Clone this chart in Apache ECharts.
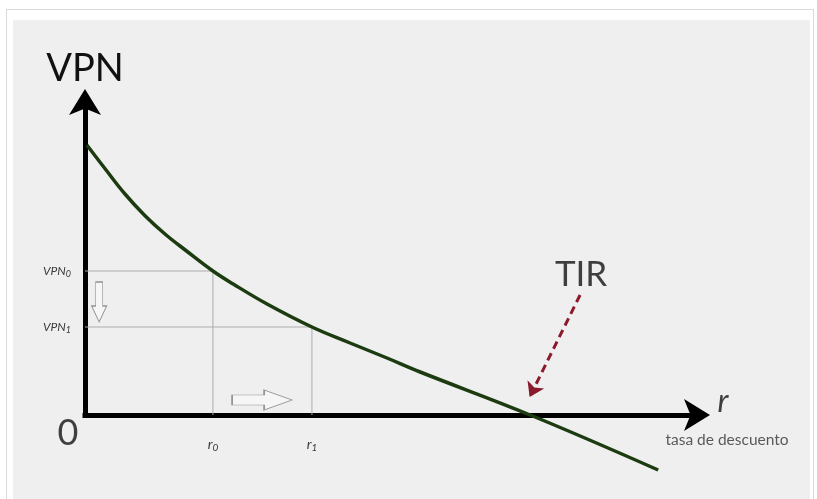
<!DOCTYPE html>
<html>
<head>
<meta charset="utf-8">
<script src="https://cdn.jsdelivr.net/npm/echarts@6.0.0/dist/echarts.min.js"></script>
<style>
  html, body { margin: 0; padding: 0; background: #fff; width: 817px; height: 499px; overflow: hidden; }
  #frame { position: absolute; left: 6px; top: 9px; width: 806px; height: 492px; border: 1px solid #dadada; background: #fff; }
  #panel { position: absolute; left: 13px; top: 20px; width: 797px; height: 479px; background: #efefef; }
  #chart { position: absolute; left: 0; top: 0; width: 817px; height: 499px; }
</style>
</head>
<body>
<div id="frame"></div>
<div id="panel"></div>
<div id="chart"></div>
<script>
// ---- data ----
const curveR   = [0.3, 3.3, 6.5, 9.8, 13.0, 16.3, 20.8, 24.1, 29.6, 36.9, 43.1, 49.1, 54.5, 72.4, 93.2];
const curveVPN = [54, 49.2, 44.2, 39.8, 36.2, 33, 28.8, 26.2, 22.2, 17.6, 14.4, 11.4, 8.6, 0, -11];
const rTicks   = [20.8, 36.9];      // r0, r1
const vpnTicks = [28.8, 17.6];      // VPN0, VPN1
const rTickLabels   = ['0', '1'];
const vpnTickLabels = ['0', '1'];
const tirArrowFrom = [80.5, 24];
const tirArrowTo   = [72.3, 3.6];
const downArrowAt  = [2.3, 22.6];
const rightArrowAt = [28.8, 3];
const xMax = 100, yMax = 63;

const curve = curveR.map((r, i) => [r, curveVPN[i]]);
const guide0 = [[0, vpnTicks[0]], [rTicks[0], vpnTicks[0]], [rTicks[0], 0]];
const guide1 = [[0, vpnTicks[1]], [rTicks[1], vpnTicks[1]], [rTicks[1], 0]];

const FONT = 'Lato';
const chart = echarts.init(document.getElementById('chart'), null, { renderer: 'canvas' });

const subRich = (size) => ({
  i: { fontFamily: FONT, fontStyle: 'italic', fontSize: size, color: '#3a3a3a', lineHeight: size + 4 },
  s: { fontFamily: FONT, fontStyle: 'italic', fontSize: Math.round(size * 0.72), color: '#3a3a3a', verticalAlign: 'bottom', lineHeight: size * 0.72 }
});

chart.setOption({
  animation: false,
  backgroundColor: 'transparent',
  grid: { left: 85, right: 117, top: 100, bottom: 84 },
  xAxis: {
    type: 'value', min: 0, max: xMax,
    splitLine: { show: false },
    axisTick: { show: false },
    axisLine: { onZero: false, symbol: ['none', 'arrow'], symbolSize: [24, 26], symbolOffset: [0, 10],
      lineStyle: { color: '#000', width: 5, cap: 'square' } },
    axisLabel: {
      customValues: rTicks, margin: 20,
      formatter: v => '{i|r}{s|' + rTickLabels[rTicks.indexOf(v)] + '}',
      rich: subRich(14)
    }
  },
  yAxis: {
    type: 'value', min: 0, max: yMax,
    splitLine: { show: false },
    axisTick: { show: false },
    name: 'VPN', nameLocation: 'end', nameGap: 12,
    nameTextStyle: { fontFamily: FONT, fontSize: 38, color: '#111', align: 'center' },
    axisLine: { onZero: false, symbol: ['none', 'arrow'], symbolSize: [24, 26], symbolOffset: [0, 11],
      lineStyle: { color: '#000', width: 5, cap: 'square' } },
    axisLabel: {
      customValues: vpnTicks, margin: 14,
      formatter: v => '{i|VPN}{s|' + vpnTickLabels[vpnTicks.indexOf(v)] + '}',
      rich: subRich(12)
    }
  },
  series: [
    { type: 'line', data: guide0, symbol: 'none', silent: true,
      lineStyle: { color: '#adadad', width: 1 }, z: 1 },
    { type: 'line', data: guide1, symbol: 'none', silent: true,
      lineStyle: { color: '#adadad', width: 1 }, z: 1 },
    { type: 'line', data: curve, symbol: 'none', smooth: 0.4, clip: false,
      lineStyle: { color: '#1c3b10', width: 3.5 }, z: 3 },
    { type: 'scatter', silent: true, z: 2,
      data: [downArrowAt],
      symbol: 'path://M4,0 L11,0 L11,24 L15,24 L7.5,40 L0,24 L4,24 Z',
      symbolSize: [15, 40],
      itemStyle: { color: '#f7f7f7', borderColor: '#7a7a7a', borderWidth: 1 } },
    { type: 'scatter', silent: true, z: 2,
      data: [rightArrowAt],
      symbol: 'path://M0,5 L32,5 L32,0 L60,10 L32,20 L32,15 L0,15 Z',
      symbolSize: [60, 20],
      itemStyle: { color: '#f7f7f7', borderColor: '#7a7a7a', borderWidth: 1 } },
    { type: 'line', data: [], silent: true, z: 4,
      markLine: {
        silent: true, animation: false,
        symbol: ['none', 'arrow'], symbolSize: 14,
        label: { show: false },
        lineStyle: { color: '#8b1a2c', width: 3, type: [8, 5] },
        data: [[{ coord: tirArrowFrom }, { coord: tirArrowTo }]]
      } },
    { type: 'scatter', silent: true, symbolSize: 0, z: 5,
      data: [
        { value: [0, 0], label: { show: true, formatter: '0', offset: [-17, 18],
          fontFamily: FONT, fontSize: 36, color: '#111' } },
        { value: [tirArrowFrom[0], tirArrowFrom[1]], label: { show: true, formatter: 'TIR', offset: [1, -20],
          fontFamily: FONT, fontSize: 35, color: '#111' } },
        { value: [xMax, 0], label: { show: true, formatter: 'r', offset: [23, -13],
          fontFamily: FONT, fontStyle: 'italic', fontSize: 32, color: '#111' } },
        { value: [xMax, 0], label: { show: true, formatter: 'tasa de descuento', offset: [27, 25],
          fontFamily: FONT, fontSize: 15.5, color: '#333' } }
      ],
      label: { position: 'inside' } }
  ]
});
</script>
</body>
</html>
